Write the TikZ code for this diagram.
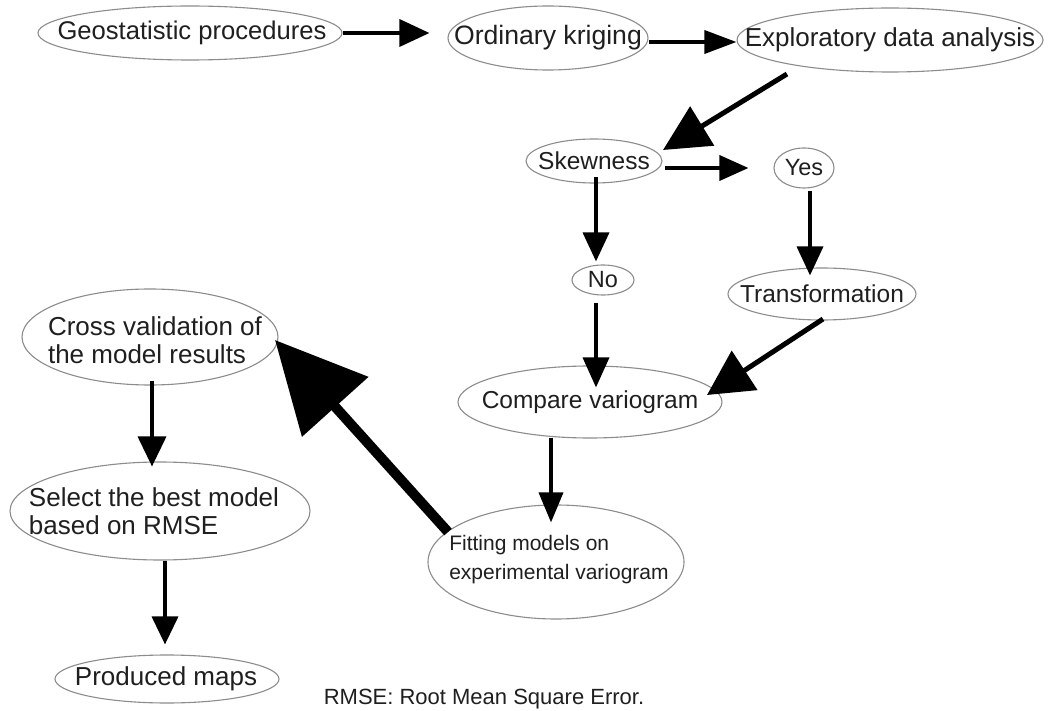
\documentclass[tikz,border=0pt]{standalone}
\usepackage{fontspec}
\setmainfont{Liberation Sans}
\usetikzlibrary{shapes.geometric,arrows.meta,calc}
\begin{document}
\begin{tikzpicture}[x=1pt,y=-1pt,
  box/.style={ellipse, draw=black!45, line width=1.1pt, inner sep=0pt},
  txt/.style={inner sep=0pt, text=black!88, font=\fontsize{26}{28}\selectfont},
  arr/.style={line width=3.6pt, -{Triangle[length=30pt,width=27pt]}},
  bigarr/.style={line width=5pt, -{Triangle[length=46pt,width=45pt]}},
  hugearr/.style={line width=10pt, -{Triangle[length=90pt,width=87pt]}}]
\useasboundingbox (0,0) rectangle (1053,711);
\fill[white] (0,0) rectangle (1053,711);
% ellipses
\node[box, minimum width=304pt, minimum height=54pt] (geo) at (190,33) {};
\node[box, minimum width=200pt, minimum height=64pt] (ok) at (548,38) {};
\node[box, minimum width=306pt, minimum height=64pt] (exp) at (890,40) {};
\node[box, minimum width=136pt, minimum height=44pt] (skw) at (594,161) {};
\node[box, minimum width=60pt, minimum height=40pt] (yes) at (804,168) {};
\node[box, minimum width=62pt, minimum height=30pt] (no) at (603,280) {};
\node[box, minimum width=188pt, minimum height=52pt] (tr) at (822,294) {};
\node[box, minimum width=264pt, minimum height=72pt] (cmp) at (590,402) {};
\node[box, minimum width=256pt, minimum height=114pt] (fit) at (556,562) {};
\node[box, minimum width=256pt, minimum height=96pt] (cv) at (150,337) {};
\node[box, minimum width=300pt, minimum height=98pt] (sel) at (160,511) {};
\node[box, minimum width=224pt, minimum height=48pt] (pm) at (167,679) {};
% texts
\node[txt, font=\fontsize{25.6}{28}\selectfont] (geot) at ($(geo.center)+(2,0)$) {Geostatistic procedures};
\node[txt, font=\fontsize{26.6}{28}\selectfont] (okt) at (ok.center) {Ordinary kriging};
\node[txt, font=\fontsize{26}{28}\selectfont] (expt) at (exp.center) {Exploratory data analysis};
\node[txt, font=\fontsize{24.5}{28}\selectfont] (skwt) at (skw.center) {Skewness};
\node[txt, font=\fontsize{23.5}{28}\selectfont] (yest) at (yes.center) {Yes};
\node[txt, font=\fontsize{23.5}{28}\selectfont] (not) at (no.center) {No};
\node[txt, font=\fontsize{24.5}{28}\selectfont] (trt) at (tr.center) {Transformation};
\node[txt, font=\fontsize{24.5}{28}\selectfont] (cmpt) at (cmp.center) {Compare variogram};
\node[txt, align=left, font=\fontsize{21}{29}\selectfont] (fitt) at ($(fit.center)+(3,-2)$) {Fitting models on\\experimental variogram};
\node[txt, align=left] (cvt) at ($(cv.center)+(5,3)$) {Cross validation of\\the model results};
\node[txt, align=left] (selt) at ($(sel.center)+(-6,0)$) {Select the best model\\based on RMSE};
\node[txt] (pmt) at ($(pm.center)+(-1,0)$) {Produced maps};
\node[txt, font=\fontsize{22}{26}\selectfont, anchor=base] (note) at (484,704) {RMSE: Root Mean Square Error.};
% connectors
\draw[arr] (geo.east) -- ($(ok.west)+(-18,-5)$);
\draw[arr, -{Triangle[length=32pt,width=23pt]}] ($(ok.east)+(0,4)$) -- ($(exp.west)+(0,2)$);
\draw[bigarr] ($(exp.center)+(-103,34)$) -- ($(skw.center)+(69,-11)$);
\draw[arr, -{Triangle[length=29pt,width=25pt]}] ($(skw.center)+(71,7)$) -- ($(yes.west)+(-25,0)$);
\draw[arr, -{Triangle[length=29pt,width=26pt]}] ($(skw.center)+(2,16)$) -- ($(no.north)+(-7,-3)$);
\draw[arr, -{Triangle[length=29pt,width=26pt]}] ($(yes.south)+(6,2)$) -- ($(tr.north)+(-12,8)$);
\draw[arr, -{Triangle[length=30pt,width=26pt]}] ($(no.south)+(-7,7)$) -- ($(cmp.north)+(6,22)$);
\draw[bigarr, -{Triangle[length=45pt,width=46pt]}] ($(tr.center)+(1,25)$) -- ($(cmp.center)+(117,-7)$);
\draw[arr, -{Triangle[length=30pt,width=24pt]}] ($(cmp.south)+(-39,-1)$) -- ($(fit.north)+(-5,18)$);
\draw[hugearr] ($(fit.center)+(-108,-30)$) -- ($(cv.center)+(125,3)$);
\draw[arr, -{Triangle[length=30pt,width=28pt]}] ($(cv.south)+(2,-5)$) -- ($(sel.north)+(-8,5)$);
\draw[arr, -{Triangle[length=28pt,width=26pt]}] ($(sel.south)+(5,0)$) -- ($(pm.north)+(-2,-10)$);
\end{tikzpicture}
\end{document}
